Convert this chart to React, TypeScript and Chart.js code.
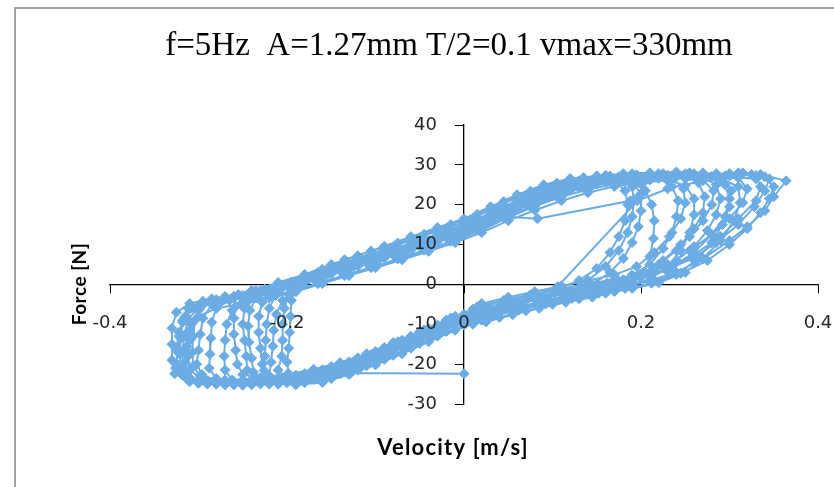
import React, { useEffect, useRef } from "react";
import { Chart, registerables } from "chart.js";

Chart.register(...registerables);

const titleText = "f=5Hz  A=1.27mm T/2=0.1 vmax=330mm";
const xAxisTitle = "Velocity [m/s]";
const yAxisTitle = "Force [N]";

const xMin = -0.4;
const xMax = 0.4;
const xStep = 0.2;
const yMin = -30;
const yMax = 40;
const yStep = 10;

// [velocity m/s, force N], cycle by cycle
const startSegment: [number, number][] = [
  [0, -22.4], [-0.128, -22.2], [-0.1, -18.5], [-0.07, -15], [-0.04, -12], [-0.01, -9.5],
];

const cycle1: [number, number][] = [
  [0.02, -7.5], [0.05, -5.5], [0.08, -3.8], [0.11, -2.2], [0.14, -0.8], [0.17, 0.5], [0.2, 1.8],
  [0.23, 3.5], [0.26, 7.5], [0.29, 12], [0.31, 16.5], [0.33, 21], [0.335, 24.5], [0.33, 27.3],
  [0.3, 27.8], [0.27, 27.2], [0.24, 27.6], [0.21, 27], [0.18, 26.8], [0.15, 25.8], [0.12, 24.2],
  [0.09, 22], [0.06, 19.5], [0.03, 16.5], [0.0, 13.5], [-0.03, 11.5], [-0.06, 9], [-0.09, 7],
  [-0.12, 5], [-0.15, 3], [-0.18, 1], [-0.21, -0.8], [-0.24, -2.3], [-0.27, -3.6], [-0.3, -5.5],
  [-0.315, -8], [-0.322, -12], [-0.325, -16], [-0.324, -20], [-0.318, -22.8], [-0.3, -24.3],
  [-0.27, -24.8], [-0.24, -24.6], [-0.21, -24.2], [-0.18, -23.3], [-0.15, -21.6], [-0.12, -19.5],
  [-0.09, -16.8], [-0.06, -14], [-0.03, -11], [0.0, -8.2],
];

const cycle2: [number, number][] = [
  [0.03, -7.8], [0.06, -6], [0.09, -4.2], [0.12, -2.5], [0.15, -1.2], [0.18, 0], [0.21, 1],
  [0.24, 3], [0.27, 6.5], [0.3, 11], [0.32, 14.5], [0.34, 18.5], [0.35, 22], [0.364, 26],
  [0.335, 27.6], [0.31, 28], [0.28, 27], [0.25, 26.6], [0.22, 27.5], [0.19, 27.8], [0.16, 27.4],
  [0.13, 26], [0.1, 24.5], [0.07, 22], [0.04, 19], [0.01, 15.5], [-0.02, 13], [-0.05, 10.8],
  [-0.08, 8.6], [-0.11, 6.4], [-0.14, 4.4], [-0.17, 2.2], [-0.2, 0], [-0.23, -1.6], [-0.26, -3],
  [-0.285, -4.4], [-0.3, -6.5], [-0.308, -10], [-0.31, -14], [-0.312, -18], [-0.31, -21.5],
  [-0.295, -23.8], [-0.27, -24], [-0.24, -23.8], [-0.21, -23.5], [-0.18, -22.4], [-0.15, -20.6],
  [-0.12, -18.4], [-0.09, -15.8], [-0.06, -13], [-0.03, -10.2], [0.0, -7.5],
];

const cycle3: [number, number][] = [
  [0.03, -6], [0.06, -4.2], [0.09, -2.8], [0.12, -1.5], [0.15, 0], [0.18, 1.2], [0.205, 3],
  [0.225, 6], [0.245, 10], [0.26, 14], [0.27, 18], [0.272, 22], [0.265, 25.5], [0.25, 27.2],
  [0.22, 27.8], [0.19, 27.3], [0.16, 26.6], [0.13, 25.2], [0.1, 23.2], [0.07, 20.8], [0.04, 18],
  [0.01, 15], [-0.02, 12.6], [-0.05, 10.2], [-0.08, 8], [-0.11, 6], [-0.14, 4], [-0.17, 2],
  [-0.2, 0], [-0.225, -1.5], [-0.24, -3.2], [-0.248, -6], [-0.25, -10], [-0.248, -14],
  [-0.246, -18], [-0.245, -21.5], [-0.235, -23.8], [-0.21, -24.5], [-0.18, -24], [-0.15, -22.5],
  [-0.12, -20.2], [-0.09, -17.5], [-0.06, -14.5], [-0.03, -11.5], [0.0, -8.8],
];

const cycle4: [number, number][] = [
  [0.03, -7], [0.06, -5], [0.09, -3.2], [0.115, -1.5], [0.14, 1], [0.16, 4.5], [0.175, 8.5],
  [0.185, 13], [0.19, 17], [0.192, 21], [0.19, 24.5], [0.18, 26.5], [0.16, 26.8], [0.13, 25.5],
  [0.1, 23.8], [0.07, 21.2], [0.04, 18.2], [0.01, 15.4], [-0.02, 12.8], [-0.05, 10.4], [-0.08, 8.2],
  [-0.11, 6.2], [-0.14, 4.2], [-0.165, 2.2], [-0.185, 0], [-0.198, -2.5], [-0.203, -6],
  [-0.205, -10], [-0.205, -14], [-0.206, -18], [-0.21, -21.5], [-0.2, -23.6], [-0.18, -23.8],
  [-0.15, -22.8], [-0.12, -20.6], [-0.09, -17.8], [-0.06, -14.6], [-0.03, -11.8], [0.0, -9],
];

const cycle5: [number, number][] = [
  [0.03, -6.8], [0.06, -5], [0.09, -3.4], [0.12, -2], [0.15, -0.5], [0.18, 0.8], [0.21, 2.2],
  [0.235, 4.5], [0.26, 8], [0.28, 12.5], [0.295, 17], [0.3, 21.5], [0.295, 25], [0.28, 27],
  [0.25, 27.8], [0.22, 26.8], [0.19, 26.2], [0.16, 25.5], [0.13, 24.2], [0.1, 22.5], [0.07, 20],
  [0.04, 17.2], [0.01, 14.2], [-0.02, 11.8], [-0.05, 9.6], [-0.08, 7.4], [-0.11, 5.4], [-0.14, 3.4],
  [-0.17, 1.4], [-0.2, -0.3], [-0.23, -2], [-0.26, -3.4], [-0.285, -5], [-0.295, -8.5],
  [-0.298, -12.5], [-0.3, -16.5], [-0.302, -20], [-0.296, -22.6], [-0.28, -24.2], [-0.25, -25],
  [-0.22, -24.8], [-0.19, -23.8], [-0.16, -22.2], [-0.13, -20.2], [-0.1, -17.6], [-0.07, -14.8],
  [-0.04, -12], [-0.01, -9.4],
];

const cycle6: [number, number][] = [
  [0.02, -7.2], [0.05, -5.4], [0.08, -3.6], [0.11, -2], [0.14, -0.6], [0.17, 0.8], [0.19, 2.4],
  [0.21, 5], [0.225, 9], [0.235, 13], [0.24, 17], [0.242, 21], [0.235, 24.6], [0.22, 26.6],
  [0.19, 27], [0.16, 26.4], [0.13, 24.6], [0.1, 22.8], [0.07, 20.4], [0.04, 17.6], [0.01, 14.6],
  [-0.02, 12.2], [-0.05, 9.8], [-0.08, 7.8], [-0.11, 5.8], [-0.14, 3.8], [-0.17, 1.8],
  [-0.195, -0.2], [-0.215, -2], [-0.228, -4.5], [-0.232, -8], [-0.232, -12], [-0.23, -16],
  [-0.228, -20], [-0.22, -23], [-0.2, -24.2], [-0.17, -23.8], [-0.14, -22], [-0.11, -19.6],
  [-0.08, -16.8], [-0.05, -13.8], [-0.02, -10.8], [0.01, -8],
];

const cycle7: [number, number][] = [
  [0.04, -5.5], [0.07, -3.6], [0.106, -0.5], [0.196, 21], [0.23, 24], [0.27, 26], [0.31, 26.8],
  [0.33, 26.5], [0.3, 27.2], [0.26, 27.8], [0.23, 27.4], [0.2, 27], [0.17, 26.2], [0.14, 25],
  [0.11, 23.4], [0.08, 21.2], [0.05, 18.6], [0.02, 15.8], [-0.01, 13.2], [-0.04, 10.8],
  [-0.07, 8.6], [-0.1, 6.6], [-0.13, 4.6], [-0.16, 2.6], [-0.19, 0.6], [-0.22, -1.2], [-0.25, -2.8],
  [-0.28, -4.2], [-0.305, -6], [-0.318, -9], [-0.322, -13], [-0.323, -17], [-0.326, -21],
  [-0.31, -23.6], [-0.28, -25], [-0.25, -25.3], [-0.22, -25], [-0.19, -24.2], [-0.16, -22.8],
  [-0.13, -21], [-0.1, -18.6], [-0.07, -15.6], [-0.04, -12.6], [-0.01, -9.8], [0.02, -7],
];

const cycle8: [number, number][] = [
  [0.05, -5], [0.08, -3.4], [0.11, -1.8], [0.14, -0.4], [0.17, 1], [0.2, 2.6], [0.22, 5],
  [0.24, 8.5], [0.255, 12], [0.27, 16], [0.28, 20], [0.282, 23.5], [0.27, 26.2], [0.24, 27],
  [0.21, 26.2], [0.188, 21], [0.083, 16.5], [0.05, 17], [0.02, 14.2], [-0.01, 12], [-0.04, 9.8],
  [-0.07, 7.8], [-0.1, 5.8], [-0.13, 3.8], [-0.16, 1.8], [-0.19, -0.2], [-0.215, -1.8],
  [-0.235, -3.4], [-0.242, -6.5], [-0.244, -10.5], [-0.243, -14.5], [-0.24, -18.5], [-0.238, -22],
  [-0.225, -24], [-0.2, -24.6], [-0.17, -23.4], [-0.14, -21.6], [-0.11, -19], [-0.08, -16.2],
  [-0.05, -13.2], [-0.02, -10.4], [0.0, -8.4],
];

const cycle9: [number, number][] = [
  [0.015, -5.6], [0.045, -4], [0.075, -2.6], [0.105, -1.2], [0.13, 1], [0.15, 4], [0.165, 8],
  [0.175, 12], [0.182, 16], [0.185, 20], [0.182, 23.5], [0.17, 26], [0.15, 27], [0.135, 26.8],
  [0.105, 25.4], [0.075, 23.4], [0.045, 20.8], [0.015, 17.6], [-0.015, 15], [-0.045, 12.6],
  [-0.075, 10.4], [-0.105, 8.4], [-0.135, 6.2], [-0.16, 3.8], [-0.18, 1.5], [-0.19, -0.8],
  [-0.195, -4], [-0.196, -8], [-0.197, -12], [-0.198, -16], [-0.2, -19.5], [-0.198, -22.4],
  [-0.185, -23.6], [-0.165, -23], [-0.135, -20.6], [-0.105, -17.6], [-0.075, -14.4],
  [-0.045, -11.4], [-0.015, -8.4],
];

const cycle10: [number, number][] = [
  [0.01, -10], [0.04, -8.3], [0.07, -6.6], [0.1, -5], [0.13, -3.6], [0.16, -2.2], [0.19, -1],
  [0.22, 0.4], [0.25, 3], [0.27, 6.5], [0.29, 11], [0.305, 16], [0.312, 20.5], [0.31, 24.5],
  [0.29, 26.6], [0.26, 27], [0.23, 26.2], [0.2, 25.5], [0.17, 24.6], [0.14, 23], [0.11, 21],
  [0.08, 18.6], [0.05, 16], [0.02, 13], [-0.01, 10.5], [-0.04, 8.3], [-0.07, 6.2], [-0.1, 4.2],
  [-0.13, 2.2], [-0.16, 0.2], [-0.19, -1.8], [-0.22, -3.4], [-0.25, -4.8], [-0.28, -6],
  [-0.3, -8], [-0.31, -11.5], [-0.313, -15.5], [-0.315, -19.5], [-0.314, -23], [-0.3, -24.8],
  [-0.27, -25.2], [-0.24, -25.2], [-0.21, -25], [-0.18, -24.6], [-0.15, -23.6], [-0.12, -21.5],
  [-0.09, -18.8], [-0.06, -16], [-0.03, -13], [0.0, -10.2],
];

const cycle11: [number, number][] = [
  [0.02, -4.8], [0.05, -3.2], [0.08, -1.8], [0.11, -0.4], [0.14, 1], [0.17, 2.4], [0.195, 4.5],
  [0.215, 8], [0.232, 12], [0.245, 16.5], [0.25, 20.5], [0.248, 24], [0.235, 26.8], [0.21, 27.6],
  [0.18, 27.4], [0.15, 27.2], [0.12, 26.6], [0.09, 25], [0.06, 22.5], [0.03, 19.5], [0.0, 16.5],
  [-0.03, 14.3], [-0.06, 12], [-0.09, 9.6], [-0.12, 7.2], [-0.15, 5], [-0.18, 2.5], [-0.21, 0.5],
  [-0.235, -1.5], [-0.25, -3], [-0.258, -5.5], [-0.26, -8.5], [-0.26, -12.5], [-0.258, -16.5],
  [-0.256, -20], [-0.25, -22.6], [-0.23, -23.4], [-0.2, -22.6], [-0.17, -21.3], [-0.14, -19.6],
  [-0.11, -17.5], [-0.08, -14.8], [-0.05, -12], [-0.02, -9], [0.01, -6.2],
];

const cycle12: [number, number][] = [
  [0.025, -9.4], [0.055, -7.6], [0.085, -6], [0.115, -4.5], [0.145, -3.2], [0.17, -1.8],
  [0.19, 0], [0.203, 3], [0.21, 7], [0.214, 11.5], [0.215, 16], [0.212, 20], [0.205, 23.5],
  [0.19, 25.6], [0.165, 26], [0.135, 24.5], [0.105, 22], [0.075, 19.5], [0.045, 16.8],
  [0.015, 13.8], [-0.015, 10.8], [-0.045, 8.6], [-0.075, 6.4], [-0.105, 4.2], [-0.135, 2.2],
  [-0.165, 0.2], [-0.19, -1.8], [-0.205, -4], [-0.212, -7.5], [-0.215, -11.5], [-0.216, -15.5],
  [-0.218, -19.5], [-0.22, -23], [-0.21, -24.8], [-0.19, -25.2], [-0.16, -24.6], [-0.13, -22.6],
  [-0.1, -20.2], [-0.07, -17.4], [-0.04, -14.4], [-0.01, -11.5], [0.02, -9],
];

const cycle13: [number, number][] = [
  [0.005, -8.6], [0.035, -7], [0.065, -5.4], [0.095, -4], [0.125, -2.6], [0.155, -1.4],
  [0.185, -0.2], [0.215, 1], [0.245, 2.8], [0.275, 6], [0.3, 10], [0.32, 14], [0.335, 18],
  [0.345, 21.5], [0.35, 24.5], [0.34, 27], [0.315, 28], [0.285, 27.8], [0.255, 28], [0.225, 27.8],
  [0.195, 27.5], [0.165, 27.2], [0.135, 26.2], [0.105, 24.6], [0.075, 22.4], [0.045, 19.6],
  [0.015, 16.4], [-0.015, 13.8], [-0.045, 11.4], [-0.075, 9.2], [-0.105, 7.2], [-0.135, 5],
  [-0.165, 2.6], [-0.195, 0.2], [-0.225, -1.4], [-0.255, -2.6], [-0.285, -3.6], [-0.31, -4.8],
  [-0.325, -7], [-0.33, -11], [-0.33, -15], [-0.33, -19], [-0.327, -22.4], [-0.31, -24.4],
  [-0.28, -25], [-0.25, -25], [-0.22, -24.8], [-0.19, -24.4], [-0.16, -23.2], [-0.13, -21.2],
  [-0.1, -18.6], [-0.07, -15.8], [-0.04, -12.8], [-0.01, -9.8],
];

const cycle14: [number, number][] = [
  [0.012, -6.8], [0.042, -5.1], [0.072, -3.6], [0.102, -2.2], [0.132, -0.8], [0.162, 0.4],
  [0.19, 1.6], [0.215, 3.2], [0.24, 6], [0.26, 9.5], [0.275, 13.5], [0.285, 17.5], [0.29, 21.5],
  [0.285, 25], [0.27, 26.8], [0.24, 27.2], [0.21, 26.4], [0.18, 26], [0.15, 25.2], [0.12, 23.6],
  [0.09, 21.6], [0.06, 19], [0.03, 16], [0.0, 13], [-0.03, 10.8], [-0.06, 8.6], [-0.09, 6.6],
  [-0.12, 4.6], [-0.15, 2.6], [-0.18, 0.6], [-0.21, -1.2], [-0.24, -2.8], [-0.265, -4],
  [-0.28, -6], [-0.285, -9.5], [-0.286, -13.5], [-0.287, -17.5], [-0.288, -21], [-0.28, -23.6],
  [-0.26, -24.4], [-0.23, -24.3], [-0.2, -23.8], [-0.17, -22.6], [-0.14, -20.8], [-0.11, -18.5],
  [-0.08, -15.8], [-0.05, -13], [-0.02, -10], [0.01, -7.2],
];

const cycle15: [number, number][] = [
  [0.0225, -5.5], [0.0525, -3.9], [0.0825, -2.5], [0.1125, -1.1], [0.1425, 0.2], [0.1725, 1.4],
  [0.2025, 2.8], [0.23, 5], [0.255, 8.5], [0.28, 12.5], [0.3, 16.5], [0.315, 20.5], [0.32, 24],
  [0.31, 26.8], [0.285, 27.6], [0.255, 27.2], [0.225, 27.4], [0.195, 27.2], [0.165, 26.8],
  [0.135, 25.8], [0.105, 24.2], [0.075, 22], [0.045, 19.2], [0.015, 16], [-0.015, 13.6],
  [-0.045, 11.2], [-0.075, 9.1], [-0.105, 7.1], [-0.135, 5.1], [-0.165, 3], [-0.195, 0.6],
  [-0.225, -1.2], [-0.255, -2.6], [-0.28, -3.8], [-0.298, -5.8], [-0.304, -9], [-0.306, -13],
  [-0.307, -17], [-0.306, -20.5], [-0.298, -23], [-0.28, -23.8], [-0.25, -24], [-0.22, -23.6],
  [-0.19, -22.8], [-0.16, -21.4], [-0.13, -19.4], [-0.1, -16.8], [-0.07, -14], [-0.04, -11],
  [-0.01, -8],
];

const cycle16: [number, number][] = [
  [0.0075, -9], [0.0375, -7.3], [0.0675, -5.7], [0.0975, -4.2], [0.1275, -2.8], [0.1575, -1.5],
  [0.1875, -0.3], [0.212, 1.5], [0.23, 4.5], [0.245, 8.5], [0.255, 13], [0.26, 17.5], [0.26, 21.5],
  [0.25, 24.8], [0.23, 26.2], [0.2, 26], [0.17, 25.2], [0.14, 23.8], [0.11, 22], [0.08, 19.6],
  [0.05, 16.8], [0.02, 13.6], [-0.01, 11], [-0.04, 8.8], [-0.07, 6.6], [-0.1, 4.6], [-0.13, 2.6],
  [-0.16, 0.6], [-0.19, -1.4], [-0.22, -3], [-0.245, -4.4], [-0.262, -6.5], [-0.268, -10],
  [-0.27, -14], [-0.271, -18], [-0.27, -21.5], [-0.262, -24], [-0.24, -25], [-0.21, -25],
  [-0.18, -24.6], [-0.15, -22.8], [-0.12, -20.6], [-0.09, -18], [-0.06, -15], [-0.03, -12],
  [0.0, -9.4],
];

const cycle17: [number, number][] = [
  [0.018, -6.6], [0.048, -4.8], [0.078, -3.3], [0.108, -1.9], [0.138, -0.5], [0.168, 0.8],
  [0.198, 2], [0.228, 3.6], [0.258, 6.5], [0.285, 10.5], [0.31, 15], [0.328, 19.5], [0.34, 23.5],
  [0.345, 26.5], [0.325, 27.6], [0.295, 27.2], [0.265, 26.8], [0.235, 27], [0.205, 26.6],
  [0.175, 26], [0.145, 25], [0.115, 23.2], [0.085, 21], [0.055, 18.4], [0.025, 15.4],
  [-0.005, 12.8], [-0.035, 10.6], [-0.065, 8.4], [-0.095, 6.4], [-0.125, 4.4], [-0.155, 2.4],
  [-0.185, 0.4], [-0.215, -1.4], [-0.245, -2.9], [-0.275, -4.2], [-0.3, -5.8], [-0.312, -8.8],
  [-0.316, -12.8], [-0.318, -16.8], [-0.318, -20.6], [-0.31, -23.4], [-0.29, -24.2],
  [-0.26, -24.4], [-0.23, -24], [-0.2, -23.2], [-0.17, -21.8], [-0.14, -20], [-0.11, -17.4],
  [-0.08, -14.6], [-0.05, -11.8], [-0.02, -9],
];

const cycle18: [number, number][] = [
  [0.0275, -6.6], [0.0575, -4.9], [0.0875, -3.4], [0.1175, -1.9], [0.145, 0], [0.165, 3],
  [0.18, 6.5], [0.19, 10.5], [0.197, 14.5], [0.2, 18.5], [0.2, 22.5], [0.192, 25.4], [0.175, 27],
  [0.15, 26.8], [0.12, 25], [0.09, 23.2], [0.06, 20.8], [0.03, 17.8], [0.0, 14.6], [-0.03, 12.4],
  [-0.06, 10], [-0.09, 8], [-0.12, 6], [-0.15, 3.6], [-0.175, 1.4], [-0.198, -0.6],
  [-0.213, -2.8], [-0.22, -6], [-0.223, -10], [-0.224, -14], [-0.225, -18], [-0.226, -21.6],
  [-0.215, -23.8], [-0.195, -24.2], [-0.165, -23], [-0.135, -21], [-0.105, -18.4], [-0.075, -15.4],
  [-0.045, -12.4], [-0.015, -9.4],
];

const cycle19: [number, number][] = [
  [0.002, -9.8], [0.032, -8], [0.062, -6.4], [0.092, -4.9], [0.122, -3.5], [0.152, -2.2],
  [0.182, -1], [0.212, 0.3], [0.24, 2.5], [0.262, 6], [0.28, 10.5], [0.292, 15], [0.3, 19.5],
  [0.302, 23.5], [0.292, 26.6], [0.27, 28], [0.24, 28.2], [0.21, 28], [0.18, 27.8], [0.15, 27.2],
  [0.12, 26], [0.09, 24.2], [0.06, 21.8], [0.03, 18.8], [0.0, 15.6], [-0.03, 13.4], [-0.06, 11],
  [-0.09, 8.8], [-0.12, 6.6], [-0.15, 4.4], [-0.18, 2], [-0.21, 0], [-0.24, -1.5], [-0.27, -3],
  [-0.295, -4.2], [-0.312, -6], [-0.318, -9.5], [-0.32, -13.5], [-0.321, -17.5], [-0.32, -21.5],
  [-0.312, -24], [-0.29, -25], [-0.26, -25.2], [-0.23, -25], [-0.2, -24.6], [-0.17, -23.8],
  [-0.14, -22.4], [-0.11, -20.4], [-0.08, -17.8], [-0.05, -14.8], [-0.02, -11.8],
];

const lineColor = "#6cace4";

export default function App() {
  const canvasRef = useRef<HTMLCanvasElement | null>(null);

  useEffect(() => {
    if (!canvasRef.current) return;
    const all = [
      ...startSegment, ...cycle1, ...cycle2, ...cycle3, ...cycle4, ...cycle5, ...cycle6,
      ...cycle7, ...cycle8, ...cycle9, ...cycle10, ...cycle11, ...cycle12, ...cycle13, ...cycle14,
      ...cycle15, ...cycle16, ...cycle17, ...cycle18, ...cycle19,
    ].map(([x, y]) => ({ x, y }));

    const titlesPlugin = {
      id: "excelTitles",
      afterDraw(chart: any) {
        const { ctx } = chart;
        ctx.save();
        ctx.fillStyle = "#000";
        ctx.textAlign = "center";
        ctx.textBaseline = "middle";
        ctx.font = '33px "Liberation Serif"';
        ctx.fillText(titleText, 449, 46);
        ctx.font = "bold 22px Lato";
        (ctx as any).letterSpacing = "1.2px";
        ctx.fillText(xAxisTitle, 453, 448);
        ctx.font = "bold 19px Lato";
        (ctx as any).letterSpacing = "0.5px";
        ctx.translate(80, 284);
        ctx.rotate(-Math.PI / 2);
        ctx.fillText(yAxisTitle, 0, 0);
        ctx.restore();
      },
    };

    const tickFont = { family: '"DejaVu Sans"', size: 18 };

    const chart = new Chart(canvasRef.current, {
      type: "scatter",
      data: {
        datasets: [
          {
            data: all,
            showLine: true,
            borderColor: lineColor,
            backgroundColor: lineColor,
            borderWidth: 2,
            pointStyle: "rectRot",
            pointRadius: 5,
            pointBorderWidth: 1,
            pointBorderColor: lineColor,
            pointBackgroundColor: lineColor,
            tension: 0,
          },
        ],
      },
      options: {
        responsive: false,
        animation: false,
        devicePixelRatio: 1,
        layout: { padding: { left: 110, right: 16, top: 125, bottom: 83 } },
        plugins: {
          legend: { display: false },
          title: { display: false },
          tooltip: { enabled: false },
        },
        scales: {
          x: {
            type: "linear",
            position: { y: 0 } as any,
            min: xMin,
            max: xMax,
            afterFit: (scale: any) => {
              scale.paddingLeft = 0;
              scale.paddingRight = 0;
            },
            ticks: {
              stepSize: xStep,
              autoSkip: false,
              maxRotation: 0,
              font: tickFont,
              color: "#262626",
              padding: 20,
              z: 1,
            },
            grid: {
              display: true,
              drawOnChartArea: false,
              drawTicks: true,
              tickLength: 8,
              color: "#000",
              lineWidth: 1,
            },
            border: { display: true, color: "#000", width: 1.3 },
          },
          y: {
            type: "linear",
            position: { x: 0 } as any,
            min: yMin,
            max: yMax,
            afterFit: (scale: any) => {
              scale.paddingTop = 0;
              scale.paddingBottom = 0;
            },
            ticks: {
              stepSize: yStep,
              autoSkip: false,
              font: tickFont,
              color: "#262626",
              padding: 13,
              z: 1,
              callback: (value: any) => `${value}\u2003\u2002`,
            },
            grid: {
              display: true,
              drawOnChartArea: false,
              drawTicks: true,
              tickLength: 8,
              color: "#000",
              lineWidth: 1,
            },
            border: { display: true, color: "#000", width: 1.3 },
          },
        },
      },
      plugins: [titlesPlugin],
    });
    return () => chart.destroy();
  }, []);

  return (
    <div style={{ position: "fixed", left: 0, top: 0, width: 834, height: 487, background: "#fff", overflow: "hidden" }}>
      <div
        style={{
          position: "absolute",
          left: 14,
          top: 7,
          width: 900,
          height: 600,
          borderLeft: "2px solid #a4a4a4",
          borderTop: "2px solid #a4a4a4",
        }}
      />
      <canvas ref={canvasRef} width={834} height={487} style={{ position: "absolute", left: 0, top: 0, width: 834, height: 487 }} />
    </div>
  );
}
